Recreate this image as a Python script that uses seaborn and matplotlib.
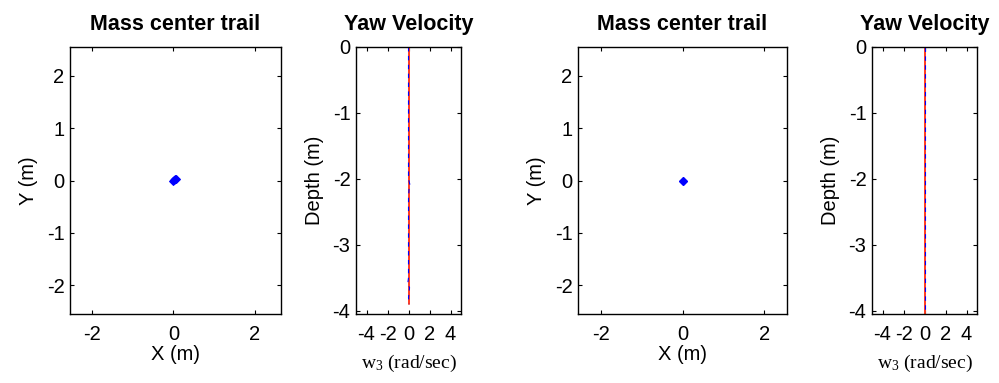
import numpy as np
import pandas as pd
import matplotlib
matplotlib.use("Agg")
import matplotlib.pyplot as plt
import seaborn as sns

# ---- data ----
# left pair: mass center trail (tiny drift near origin)
trail1_x = [0.00, 0.02, 0.04, 0.05]
trail1_y = [0.00, 0.01, 0.02, 0.02]
# left pair: yaw velocity vs depth
depth1 = [0.0, -0.5, -1.0, -1.5, -2.0, -2.1, -2.15, -2.3, -2.5, -3.0, -3.5, -3.6, -3.65, -3.8, -3.9]
yaw1_ref = [0.0, 0.0, 0.0, 0.0, 0.0, 0.0, 0.0, 0.0, 0.0, 0.0, 0.0, 0.0, 0.0, 0.0, 0.0]
yaw1_meas = [0.0, 0.0, 0.0, 0.0, 0.0, 0.15, 0.05, 0.0, 0.0, 0.0, 0.0, -0.08, 0.1, 0.0, 0.05]

# right pair: mass center stays at origin
trail2_x = [0.0, 0.0]
trail2_y = [0.0, 0.0]
# right pair: yaw velocity stays at zero
depth2 = [0.0, -1.0, -2.0, -3.0, -4.05]
yaw2_ref = [0.0, 0.0, 0.0, 0.0, 0.0]
yaw2_meas = [0.0, 0.0, 0.0, 0.0, 0.0]

sns.set_theme(style="white")
plt.rcParams["font.family"] = ["Liberation Sans", "DejaVu Sans"]
plt.rcParams["axes.unicode_minus"] = False
plt.rcParams["xtick.direction"] = "in"
plt.rcParams["ytick.direction"] = "in"
plt.rcParams["text.color"] = "black"
plt.rcParams["axes.labelcolor"] = "black"

fig = plt.figure(figsize=(9.99, 3.83), dpi=100)

H = 383.0
W = 999.0
bot = 1 - 314 / H
hgt = (314 - 47) / H
FS = 14.5


def style_axes(ax, title):
    for s in ax.spines.values():
        s.set_color("black")
        s.set_linewidth(1.0)
    ax.tick_params(axis="both", which="both", labelsize=FS, length=3, width=0.8,
                   color="black", labelcolor="black", top=True, right=True,
                   bottom=True, left=True)
    ax.tick_params(axis="x", pad=8)
    ax.tick_params(axis="y", pad=4)
    ax.set_title(title, fontsize=15.5, fontweight="bold", pad=12, color="black")


def trail_panel(left, width, xs, ys, xlim):
    ax = fig.add_axes([left / W, bot, width / W, hgt])
    df = pd.DataFrame({"x": xs, "y": ys})
    sns.lineplot(data=df, x="x", y="y", sort=False, estimator=None, color="blue",
                 marker="D", markersize=4, markeredgecolor="blue", linewidth=2, ax=ax)
    ax.set_xlim(*xlim)
    ax.set_ylim(-2.55, 2.55)
    ax.set_xticks([-2, 0, 2])
    ax.set_yticks([-2, -1, 0, 1, 2])
    ax.set_xlabel("X (m)", fontsize=FS, labelpad=1)
    ax.set_ylabel("Y (m)", fontsize=FS, labelpad=6)
    style_axes(ax, "Mass center trail")
    return ax


def yaw_panel(left, width, depth, ref, meas, ylim):
    ax = fig.add_axes([left / W, bot, width / W, hgt])
    df = pd.DataFrame({"depth": depth, "ref": ref, "meas": meas})
    sns.lineplot(data=df, x="ref", y="depth", sort=False, estimator=None,
                 color="#ff3b1f", linewidth=1.4, ax=ax)
    sns.lineplot(data=df, x="meas", y="depth", sort=False, estimator=None,
                 color="blue", linewidth=0.8, linestyle=(0, (4, 4)), ax=ax)
    ax.set_xlim(-5, 5)
    ax.set_ylim(*ylim)
    ax.set_xticks([-4, -2, 0, 2, 4])
    ax.set_yticks([-4, -3, -2, -1, 0])
    ax.set_xlabel(r"$\mathregular{w_3}$ (rad/sec)", fontsize=14,
                  family="Liberation Serif", labelpad=6)
    ax.set_ylabel("Depth (m)", fontsize=FS, labelpad=6)
    style_axes(ax, "Yaw Velocity")
    return ax


trail_panel(70, 211, trail1_x, trail1_y, (-2.54, 2.64))
yaw_panel(356, 105, depth1, yaw1_ref, yaw1_meas, (-4.05, 0))
trail_panel(578, 209, trail2_x, trail2_y, (-2.56, 2.56))
yaw_panel(872, 105, depth2, yaw2_ref, yaw2_meas, (-4.05, 0))

fig.savefig("out.png", dpi=100)
